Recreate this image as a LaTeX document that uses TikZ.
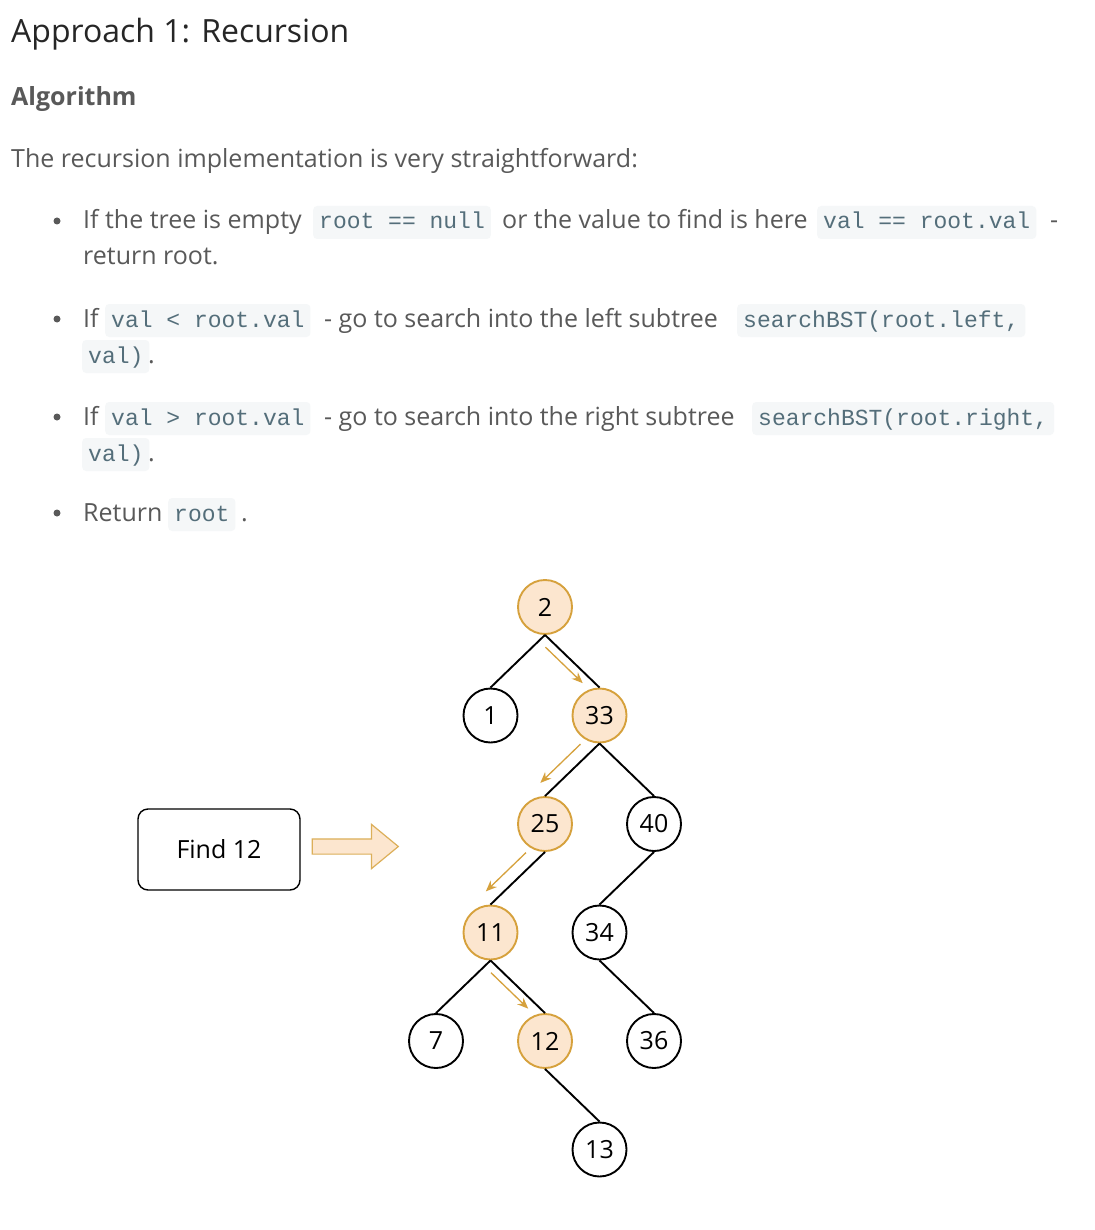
\documentclass[tikz,border=0pt]{standalone}
\usepackage{fontspec}
\setmainfont{Open Sans}
\newfontfamily\cdfont{Liberation Mono}
\usetikzlibrary{positioning,arrows.meta,shapes.arrows}

\definecolor{ttlgray}{HTML}{262626}
\definecolor{txtgray}{HTML}{595959}
\definecolor{codebg}{HTML}{F5F7F8}
\definecolor{codefg}{HTML}{546E7A}
\definecolor{peach}{HTML}{FCE6CF}
\definecolor{gold}{HTML}{D6A13C}

\newcommand\txtsize{\fontsize{25}{30}\selectfont}

\begin{document}
\begin{tikzpicture}[
    x=1pt, y=-1pt,
    node distance=108.5pt and 54.5pt,
    every node/.style={inner sep=0pt},
    txt/.style={anchor=base west, text=txtgray, font=\txtsize},
    code/.style={anchor=base west, fill=codebg, text=codefg, rounded corners=4pt,
      inner xsep=6pt, text height=23pt, text depth=10pt,
      font=\cdfont\fontsize{23}{28}\selectfont},
    bullet/.style={circle, fill=txtgray, minimum size=7pt},
    treenode/.style={on grid, circle, draw, line width=1.9pt, minimum size=54pt,
      font=\txtsize},
    visited/.style={treenode, fill=peach, draw=gold},
    edge/.style={line width=1.9pt},
    searchright/.style={-{Stealth[length=11pt,width=9pt]}, gold, line width=1.3pt,
      shorten <=9pt, shorten >=15pt, transform canvas={shift={(-6pt,-6pt)}}},
    searchleft/.style={-{Stealth[length=11pt,width=9pt]}, gold, line width=1.3pt,
      shorten <=14pt, shorten >=6pt, transform canvas={shift={(-9pt,9pt)}}}
  ]
    \path[use as bounding box, fill=white] (0,0) rectangle (1094,1230);

    % heading
    \node[anchor=base west, text=ttlgray, font=\fontsize{32}{38}\selectfont] (title) at (11,43) {Approach 1: Recursion};
    \node[txt, font=\txtsize\bfseries] (algo) at (11,106) {Algorithm};
    \node[txt] (intro) at (11,168) {The recursion implementation is very straightforward:};

    % first item
    \node[bullet] (b1) at (57,221) {};
    \node[txt] (l1a) at (83,229) {If the tree is empty};
    \node[code] (l1b) at (313,229) {root == null};
    \node[txt] (l1c) at (502,229) {or the value to find is here};
    \node[code] (l1d) at (817,229) {val == root.val};
    \node[txt] (l1e) at (1050,229) {-};
    \node[txt] (l1f) at (83,265) {return root.};

    % second item
    \node[bullet] (b2) at (57,319) {};
    \node[txt] (l2a) at (83,327) {If};
    \node[code] (l2b) at (105,327) {val < root.val};
    \node[txt] (l2c) at (324,327) {- go to search into the left subtree};
    \node[code] (l2d) at (737,327) {searchBST(root.left,};
    \node[code] (l2e) at (82,363) {val)};
    \node[txt] (l2f) at (148,363) {.};

    % third item
    \node[bullet] (b3) at (57,417) {};
    \node[txt] (l3a) at (83,425) {If};
    \node[code] (l3b) at (105,425) {val > root.val};
    \node[txt] (l3c) at (324,425) {- go to search into the right subtree};
    \node[code] (l3d) at (752,425) {searchBST(root.right,};
    \node[code] (l3e) at (82,461) {val)};
    \node[txt] (l3f) at (148,461) {.};

    % fourth item
    \node[bullet] (b4) at (57,513) {};
    \node[txt] (l4a) at (83,521) {Return};
    \node[code] (l4b) at (168,521) {root};
    \node[txt] (l4c) at (241,521) {.};

    % the search
    \node[draw, rounded corners=10pt, line width=1.4pt, minimum width=162pt,
      minimum height=81pt, font=\txtsize] (find) at (219,849.5) {Find 12};
    \node[single arrow, draw=gold!85, fill=peach, line width=1.2pt, minimum height=86pt,
      inner ysep=7pt, inner xsep=0pt, single arrow head extend=14.5pt,
      single arrow tip angle=79, right=11pt of find, yshift=3pt] (findarrow) {};

    % tree
    \node[visited] (n2) at (545,607) {2};
    \node[treenode, below left=of n2] (n1) {1};
    \node[visited, below right=of n2] (n33) {33};
    \node[visited, below left=of n33] (n25) {25};
    \node[treenode, below right=of n33] (n40) {40};
    \node[visited, below left=of n25] (n11) {11};
    \node[treenode, below left=of n40] (n34) {34};
    \node[treenode, below left=of n11] (n7) {7};
    \node[visited, below right=of n11] (n12) {12};
    \node[treenode, below right=of n34] (n36) {36};
    \node[treenode, below right=of n12] (n13) {13};

    \draw[edge] (n2.south) -- (n1.north);
    \draw[edge] (n2.south) -- (n33.north);
    \draw[edge] (n33.south) -- (n25.north);
    \draw[edge] (n33.south) -- (n40.north);
    \draw[edge] (n25.south) -- (n11.north);
    \draw[edge] (n40.south) -- (n34.north);
    \draw[edge] (n11.south) -- (n7.north);
    \draw[edge] (n11.south) -- (n12.north);
    \draw[edge] (n34.south) -- (n36.north);
    \draw[edge] (n12.south) -- (n13.north);

    \draw[searchright] (n2.south) -- (n33.north);
    \draw[searchleft] (n33.south) -- (n25.north);
    \draw[searchleft] (n25.south) -- (n11.north);
    \draw[searchright] (n11.south) -- (n12.north);
\end{tikzpicture}
\end{document}
